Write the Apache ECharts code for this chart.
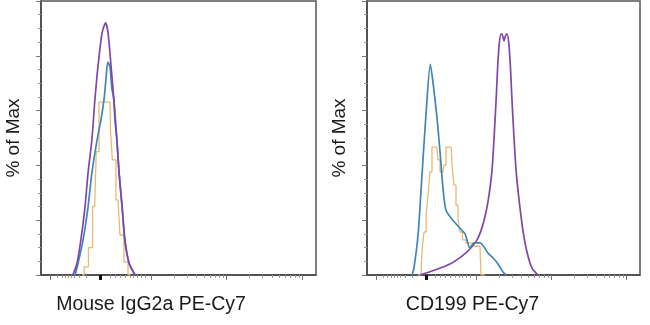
<!DOCTYPE html>
<html><head><meta charset="utf-8">
<script src="https://cdn.jsdelivr.net/npm/echarts@6/dist/echarts.min.js"></script>
<style>html,body{margin:0;padding:0;background:#fff}#c{width:650px;height:325px}</style>
</head><body><div id="c"></div>
<script>
// Panel 1: Mouse IgG2a PE-Cy7 (isotype control)
const isoPurpleX = [116,131,145,160,171,185,196,207,222,235,244,255,265,269,276,284,295,305,320,342];
const isoPurpleY = [0,4.4,12.8,24.8,37.2,49.3,63.9,75.9,88.3,92,88.3,75.9,63.9,56.6,49.3,37.2,24.8,12.8,4.4,0];
const isoBlueX = [124,135,153,171,185,204,218,229,236,243,251,257,265,276,284,295,305,320,342];
const isoBlueY = [0,4.4,12.8,24.8,37.2,49.3,56.6,63.9,71.2,77.7,75.9,68.6,63.9,49.3,37.2,24.8,12.8,4.4,0];
const isoOrangeX = [149,165,180,195,207,215,229,251,254,265,280,294,309,324];
const isoOrangeY = [0,3,10,25,45,63.1,63.1,63.1,52.9,42,27.4,14.6,4.7,0];

// Panel 2: CD199 PE-Cy7
const cdBlueX = [165,172,187,198,205,216,232,242,256,267,278,289,308,333,359,377,392,414,429,443,462,480,498,509];
const cdBlueY = [0,2.6,14.6,31,42,58.4,76.9,70.1,57.7,45.6,32.1,23.7,20.8,17.9,15,9.9,11.7,11.7,10.2,8,6.2,4,1.1,0];
const cdPurpleX = [194,249,304,348,377,403,421,436,447,458,465,473,478,484,491,496,502,507,513,520,526,531,539,546,557,571,586,604,626];
const cdPurpleY = [0,1.8,4,6.9,9.5,12.8,17.2,23,29.2,38.3,49.3,63.9,74.8,83.9,88,87.6,85.4,87.2,88,83.9,74.8,63.9,49.3,38.3,27.4,16.4,8.4,2.6,0];
const cdOrangeX = [187,198,202,205,213,220,227,234,242,249,256,264,271,278,286,293,300,308,315,322,330,337,344,355,370,385,399,414,421,432];
const cdOrangeY = [0,0,6.2,10.9,15.7,21.9,29.2,37.6,46.7,46.7,46.7,42,37.6,37.6,40.1,46.7,46.7,46.7,40.1,32.8,25.5,20.1,15.7,12.8,11.7,11.7,10.5,10.5,0,0];

// Axis (biexponential display, channel units 0..1000)
const panelTitles = ['Mouse IgG2a PE-Cy7', 'CD199 PE-Cy7'];
const yAxisTitle = '% of Max';
const majorTicks = [34, 400, 675, 950];     // -10^3, 10^3, 10^4, 10^5
const zeroTick = [216];                      // 0
const nearZeroMinor = [60,76,88,99,110,122,140,165,250,269,287,305,324,337,350,365,378];
const decadeStarts = [400, 675];
const decadeWidth = 275;

const logMinor = [];
decadeStarts.forEach(b => { for (let k = 2; k <= 9; k++) logMinor.push(b + Math.log10(k) * decadeWidth); });
const minorTicks = nearZeroMinor.concat(logMinor);

const zip = (xs, ys) => xs.map((x, i) => [x, ys[i]]);
const font = '"Liberation Sans", Arial, sans-serif';

const grids = [
  {left: 41, top: 1, width: 275, height: 274},
  {left: 367, top: 1, width: 273, height: 274}
].map(g => Object.assign(g, {show: true, borderColor: '#555', borderWidth: 1.5, backgroundColor: 'transparent'}));

const xAxes = [];
const yAxes = [];
const namePad = [[0, 55, 0, 0], [0, 62, 0, 0]];
[0, 1].forEach(i => {
  xAxes.push({
    type: 'value', gridIndex: i, min: 0, max: 1000, position: 'bottom',
    axisLine: {show: true, lineStyle: {color: '#444', width: 1.5}},
    axisTick: {show: true, customValues: majorTicks, length: 5, lineStyle: {color: '#777', width: 1}},
    axisLabel: {show: false}, splitLine: {show: false},
    name: panelTitles[i], nameLocation: 'middle', nameGap: 20,
    nameTextStyle: {fontSize: 19.5, color: '#1a1a1a', fontFamily: font, padding: namePad[i]}
  });
  xAxes.push({
    type: 'value', gridIndex: i, min: 0, max: 1000, position: 'bottom',
    axisLine: {show: false},
    axisTick: {show: true, customValues: minorTicks, length: 3, lineStyle: {color: '#999', width: 1}},
    axisLabel: {show: false}, splitLine: {show: false}
  });
  xAxes.push({
    type: 'value', gridIndex: i, min: 0, max: 1000, position: 'bottom',
    axisLine: {show: false},
    axisTick: {show: true, customValues: zeroTick, length: 5, lineStyle: {color: '#111', width: 3}},
    axisLabel: {show: false}, splitLine: {show: false}
  });
  yAxes.push({
    type: 'value', gridIndex: i, min: 0, max: 100, interval: 20,
    axisLine: {show: true, lineStyle: {color: '#444', width: 1.5}},
    axisTick: {show: true, length: 5, lineStyle: {color: '#777'}},
    minorTick: {show: true, splitNumber: 4, length: 3, lineStyle: {color: '#999'}},
    axisLabel: {show: false}, splitLine: {show: false}, minorSplitLine: {show: false},
    name: yAxisTitle, nameLocation: 'middle', nameGap: 18, nameRotate: 90,
    nameTextStyle: {fontSize: 19, color: '#1a1a1a', fontFamily: font}
  });
});

const purple = '#8145aa', blue = '#3f86b6', orange = '#ebb872';
const mk = (name, data, color, xi, yi, extra) => Object.assign({
  type: 'line', name, data, xAxisIndex: xi, yAxisIndex: yi,
  showSymbol: false, smooth: 0.25, animation: false,
  lineStyle: {color, width: 1.7}, itemStyle: {color}
}, extra || {});

const series = [
  mk('iso-orange', zip(isoOrangeX, isoOrangeY), orange, 0, 0, {smooth: false, step: 'middle', lineStyle: {color: orange, width: 1.3}}),
  mk('iso-blue', zip(isoBlueX, isoBlueY), blue, 0, 0),
  mk('iso-purple', zip(isoPurpleX, isoPurpleY), purple, 0, 0),
  mk('cd-orange', zip(cdOrangeX, cdOrangeY), orange, 3, 1, {smooth: false, step: 'middle', lineStyle: {color: orange, width: 1.3}}),
  mk('cd-purple', zip(cdPurpleX, cdPurpleY), purple, 3, 1),
  mk('cd-blue', zip(cdBlueX, cdBlueY), blue, 3, 1)
];

const chart = echarts.init(document.getElementById('c'), null, {renderer: 'canvas'});
chart.setOption({
  animation: false,
  backgroundColor: '#fff',
  grid: grids, xAxis: xAxes, yAxis: yAxes, series
});
</script></body></html>
